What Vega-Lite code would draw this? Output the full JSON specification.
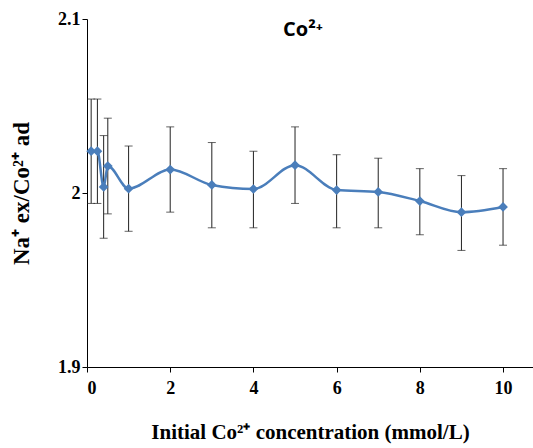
{
  "$schema": "https://vega.github.io/schema/vega-lite/v6.json",
  "width": 446,
  "height": 348,
  "autosize": {"type": "none"},
  "padding": {"left": 87, "top": 19, "right": 0, "bottom": 81},
  "background": "white",
  "config": {
    "view": {"stroke": null},
    "axis": {
      "grid": false,
      "domainColor": "black",
      "tickColor": "black",
      "labelFont": "Liberation Serif",
      "labelFontWeight": 700,
      "labelFontSize": 18,
      "labelColor": "black",
      "titleFont": "Liberation Serif",
      "titleFontWeight": 700,
      "titleFontSize": 21,
      "titleColor": "black",
      "tickSize": 5
    }
  },
  "title": {
    "text": "Co²⁺",
    "font": "Open Sans",
    "fontSize": 20,
    "fontWeight": "bold",
    "color": "black",
    "anchor": "middle",
    "offset": -30,
    "dx": -7
  },
  "data": {
    "values": [
      {"x": 0.1, "y": 2.024, "lo": 1.994, "hi": 2.054},
      {"x": 0.25, "y": 2.024, "lo": 1.994, "hi": 2.054},
      {"x": 0.4, "y": 2.0035, "lo": 1.974, "hi": 2.033},
      {"x": 0.5, "y": 2.0155, "lo": 1.988, "hi": 2.043},
      {"x": 1, "y": 2.0025, "lo": 1.978, "hi": 2.027},
      {"x": 2, "y": 2.0135, "lo": 1.989, "hi": 2.038},
      {"x": 3, "y": 2.0046, "lo": 1.98, "hi": 2.029},
      {"x": 4, "y": 2.0023, "lo": 1.98, "hi": 2.024},
      {"x": 5, "y": 2.016, "lo": 1.994, "hi": 2.038},
      {"x": 6, "y": 2.0017, "lo": 1.98, "hi": 2.022},
      {"x": 7, "y": 2.0006, "lo": 1.98, "hi": 2.02},
      {"x": 8, "y": 1.9954, "lo": 1.976, "hi": 2.014},
      {"x": 9, "y": 1.989, "lo": 1.967, "hi": 2.01},
      {"x": 10, "y": 1.992, "lo": 1.97, "hi": 2.014}
    ]
  },
  "encoding": {
    "x": {
      "field": "x",
      "type": "quantitative",
      "scale": {"domain": [0, 10.72], "nice": false},
      "axis": {
        "values": [0, 2, 4, 6, 8, 10],
        "title": "Initial Co²⁺ concentration (mmol/L)",
        "titlePadding": 24,
        "labelPadding": 7,
        "labelFontWeight": "bold"
      }
    }
  },
  "layer": [
    {
      "mark": {"type": "rule", "color": "#222222", "strokeWidth": 1},
      "encoding": {
        "y": {
          "field": "lo",
          "type": "quantitative",
          "scale": {"domain": [1.9, 2.1], "nice": false, "zero": false},
          "axis": {
            "values": [1.9, 2.0, 2.1],
            "labelExpr": "datum.value == 2 ? '2' : format(datum.value, '.1f')",
            "title": "Na⁺ ex/Co²⁺ ad",
            "titleFontSize": 23,
            "titlePadding": 24,
            "labelFontWeight": "bold"
          }
        },
        "y2": {"field": "hi"}
      }
    },
    {
      "mark": {"type": "tick", "color": "#222222", "orient": "horizontal", "size": 8, "thickness": 1},
      "encoding": {"y": {"field": "lo", "type": "quantitative"}}
    },
    {
      "mark": {"type": "tick", "color": "#222222", "orient": "horizontal", "size": 8, "thickness": 1},
      "encoding": {"y": {"field": "hi", "type": "quantitative"}}
    },
    {
      "mark": {"type": "line", "color": "#4a7ebb", "strokeWidth": 2.5, "interpolate": "monotone"},
      "encoding": {"y": {"field": "y", "type": "quantitative"}}
    },
    {
      "mark": {"type": "point", "shape": "diamond", "filled": true, "color": "#4a7ebb", "size": 95, "opacity": 1},
      "encoding": {"y": {"field": "y", "type": "quantitative"}}
    }
  ]
}
